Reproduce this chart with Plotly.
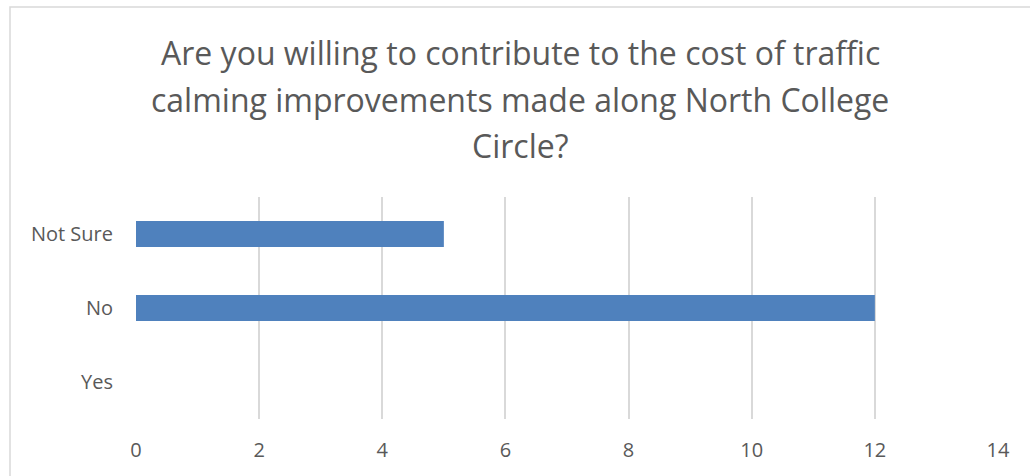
import plotly.graph_objects as go

categories = ["Yes", "No", "Not Sure"]
values = [0, 12, 5]
x_ticks = [0, 2, 4, 6, 8, 10, 12, 14]
title_lines = [
    "Are you willing to contribute to the cost of traffic",
    "calming improvements made along North College",
    "Circle?",
]

W, H = 1030, 476
L, R, T, B = 136, 32, 197, 57
pw, ph = W - L - R, H - T - B

fig = go.Figure(go.Bar(
    y=categories, x=values, orientation="h",
    marker=dict(color="#4F81BD", line=dict(width=0)),
    width=0.35,
))

fig.update_layout(
    width=W, height=H,
    margin=dict(l=L, r=R, t=T, b=B),
    paper_bgcolor="white", plot_bgcolor="white",
    font=dict(family="Open Sans", color="#595959"),
    showlegend=False,
)
fig.update_xaxes(range=[0, 14], tickvals=x_ticks, showgrid=True,
                 gridcolor="#D9D9D9", gridwidth=1.5, zeroline=False,
                 showline=False, ticks="", tickfont=dict(size=20, color="#595959"),
                 ticklabelstandoff=17)
fig.update_yaxes(showgrid=False, showline=False, zeroline=False, ticks="",
                 tickfont=dict(size=20, color="#595959"), ticklabelstandoff=22,
                 range=[-0.5, 2.5])

# chart title, one annotation per line to match line spacing
centers_px = [52, 99, 146]
for line, cy in zip(title_lines, centers_px):
    fig.add_annotation(text=line, xref="paper", yref="paper",
                       x=(520 - L) / pw, y=1 + (T - cy) / ph,
                       xanchor="center", yanchor="middle", showarrow=False,
                       font=dict(size=32, color="#595959", family="Open Sans"))

# outer chart border
fig.add_shape(type="rect", xref="paper", yref="paper",
              x0=(10 - L) / pw, x1=(W + 10 - L) / pw,
              y0=(H - B - (H + 10)) / ph, y1=1 + (T - 7) / ph,
              line=dict(color="#D9D9D9", width=1.5), fillcolor="rgba(0,0,0,0)",
              layer="below")

fig.write_html("out.html", config={"displayModeBar": False},
               post_script="document.body.style.margin='0';document.body.style.overflow='hidden';")
